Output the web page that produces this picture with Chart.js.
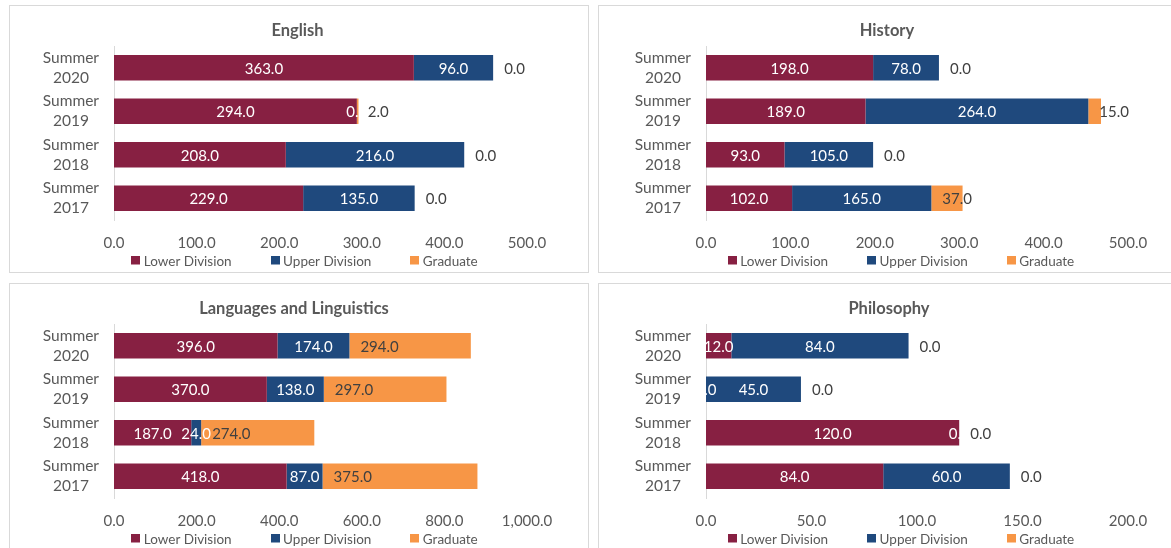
<!DOCTYPE html>
<html>
<head>
<meta charset="utf-8">
<title>Summer enrollment by division</title>
<script src="https://cdn.jsdelivr.net/npm/chart.js@4.4.1/dist/chart.umd.min.js"></script>
<style>
  html, body { margin: 0; padding: 0; background: #fff; }
  body { width: 1171px; height: 548px; overflow: hidden; position: relative; }
  .panel { position: absolute; border: 1px solid #d9d9d9; background: #fff; box-sizing: border-box; }
  .panel canvas { display: block; }
</style>
</head>
<body>
<div class="panel" style="left:9px;top:5px;width:580px;height:268px"><canvas id="chartEnglish" width="578" height="266"></canvas></div>
<div class="panel" style="left:598px;top:5px;width:580px;height:268px"><canvas id="chartHistory" width="578" height="266"></canvas></div>
<div class="panel" style="left:9px;top:283px;width:580px;height:268px"><canvas id="chartLanguages" width="578" height="266"></canvas></div>
<div class="panel" style="left:598px;top:283px;width:580px;height:268px"><canvas id="chartPhilosophy" width="578" height="266"></canvas></div>

<script>
// Terms, top to bottom
const categories = ['Summer 2020', 'Summer 2019', 'Summer 2018', 'Summer 2017'];
const seriesNames = ['Lower Division', 'Upper Division', 'Graduate'];

// English
const englishLower = [363, 294, 208, 229];
const englishUpper = [96, 0, 216, 135];
const englishGrad  = [0, 2, 0, 0];
const englishTicks = [0, 100, 200, 300, 400, 500];

// History
const historyLower = [198, 189, 93, 102];
const historyUpper = [78, 264, 105, 165];
const historyGrad  = [0, 15, 0, 37];
const historyTicks = [0, 100, 200, 300, 400, 500];

// Languages and Linguistics
const languagesLower = [396, 370, 187, 418];
const languagesUpper = [174, 138, 24, 87];
const languagesGrad  = [294, 297, 274, 375];
const languagesTicks = [0, 200, 400, 600, 800, 1000];

// Philosophy
const philosophyLower = [12, 0, 120, 84];
const philosophyUpper = [84, 45, 0, 60];
const philosophyGrad  = [0, 0, 0, 0];
const philosophyTicks = [0, 50, 100, 150, 200];

const COLORS = ['#872042', '#1f497d', '#f79646'];
const FONT = 'Lato, "Open Sans", sans-serif';
const TEXT = '#595959';

const fmt = v => Number(v).toLocaleString('en-US', { minimumFractionDigits: 1, maximumFractionDigits: 1 });

// Value labels: centred in the division segments, graduate labels start just past the segment base
const barLabels = {
  id: 'barLabels',
  afterDatasetsDraw(chart) {
    const ctx = chart.ctx;
    ctx.save();
    ctx.font = '15px ' + FONT;
    ctx.textBaseline = 'middle';
    chart.data.datasets.forEach((ds, di) => {
      const meta = chart.getDatasetMeta(di);
      meta.data.forEach((bar, i) => {
        const txt = fmt(ds.data[i]);
        if (di < 2) {
          ctx.fillStyle = '#ffffff';
          ctx.textAlign = 'center';
          ctx.fillText(txt, (bar.x + bar.base) / 2, bar.y + 1);
        } else {
          ctx.fillStyle = '#404040';
          ctx.textAlign = 'left';
          ctx.fillText(txt, bar.base + 11, bar.y + 1);
        }
      });
    });
    ctx.restore();
  }
};

// Panel heading, centred on a given x
const panelTitle = {
  id: 'panelTitle',
  afterDraw(chart, args, opts) {
    const ctx = chart.ctx;
    ctx.save();
    ctx.font = 'bold 16.5px ' + FONT;
    ctx.fillStyle = TEXT;
    ctx.textAlign = 'center';
    ctx.textBaseline = 'middle';
    ctx.fillText(opts.text, opts.x, 25);
    ctx.restore();
  }
};

// Square-swatch legend under the axis
const swatchLegend = {
  id: 'swatchLegend',
  afterDraw(chart) {
    const ctx = chart.ctx;
    const ca = chart.chartArea;
    ctx.save();
    ctx.font = '13.5px ' + FONT;
    ctx.textBaseline = 'middle';
    ctx.textAlign = 'left';
    const box = 9, gapText = 3.5, gapItem = 39;
    const items = chart.data.datasets.map(d => ({ label: d.label, color: d.backgroundColor, w: ctx.measureText(d.label).width }));
    const total = items.reduce((s, it) => s + box + gapText + it.w, 0) + gapItem * (items.length - 1);
    let x = (ca.left + ca.right) / 2 - 16 - total / 2;
    const y = 254.5;
    items.forEach(it => {
      ctx.fillStyle = it.color;
      ctx.fillRect(Math.round(x), Math.round(y - box / 2), box, box - 0.5);
      x += box + gapText;
      ctx.fillStyle = TEXT;
      ctx.fillText(it.label, x, y + 1);
      x += it.w + gapItem;
    });
    ctx.restore();
  }
};

function buildChart(id, title, lower, upper, grad, ticks, areaLeft, areaRight, titleCenter) {
  const canvas = document.getElementById(id);
  const W = canvas.width;
  const step = ticks[1] - ticks[0];
  return new Chart(canvas, {
    type: 'bar',
    data: {
      labels: categories,
      datasets: [
        { label: seriesNames[0], data: lower, backgroundColor: COLORS[0] },
        { label: seriesNames[1], data: upper, backgroundColor: COLORS[1] },
        { label: seriesNames[2], data: grad,  backgroundColor: COLORS[2] }
      ]
    },
    options: {
      indexAxis: 'y',
      responsive: false,
      animation: false,
      devicePixelRatio: 1,
      datasets: { bar: { categoryPercentage: 1, barPercentage: 0.585, borderWidth: 0 } },
      layout: { padding: { left: 0, right: W - areaRight, top: 40, bottom: 20 } },
      plugins: {
        legend: { display: false },
        tooltip: { enabled: false },
        title: { display: false },
        panelTitle: { text: title, x: titleCenter }
      },
      scales: {
        x: {
          stacked: true,
          min: ticks[0],
          max: ticks[ticks.length - 1],
          grid: { display: false, drawTicks: false },
          border: { display: false },
          ticks: {
            stepSize: step,
            autoSkip: false,
            maxRotation: 0,
            padding: 14,
            color: TEXT,
            font: { family: FONT, size: 15 },
            callback: v => fmt(v)
          },
          afterFit: s => { s.height = 32; }
        },
        y: {
          stacked: true,
          grid: { display: false, drawTicks: false },
          border: { display: true, color: '#d9d9d9', width: 1 },
          ticks: {
            crossAlign: 'center',
            padding: 15,
            color: TEXT,
            font: { family: FONT, size: 15.5, lineHeight: 1.3 },
            callback: (v, i) => categories[i].split(' ')
          },
          afterFit: s => { s.width = areaLeft; }
        }
      }
    },
    plugins: [barLabels, panelTitle, swatchLegend]
  });
}

buildChart('chartEnglish', 'English', englishLower, englishUpper, englishGrad, englishTicks, 104, 517, 287.5);
buildChart('chartHistory', 'History', historyLower, historyUpper, historyGrad, historyTicks, 107, 529, 288);
buildChart('chartLanguages', 'Languages and Linguistics', languagesLower, languagesUpper, languagesGrad, languagesTicks, 104, 517, 284);
buildChart('chartPhilosophy', 'Philosophy', philosophyLower, philosophyUpper, philosophyGrad, philosophyTicks, 107, 529, 290);
</script>
</body>
</html>
